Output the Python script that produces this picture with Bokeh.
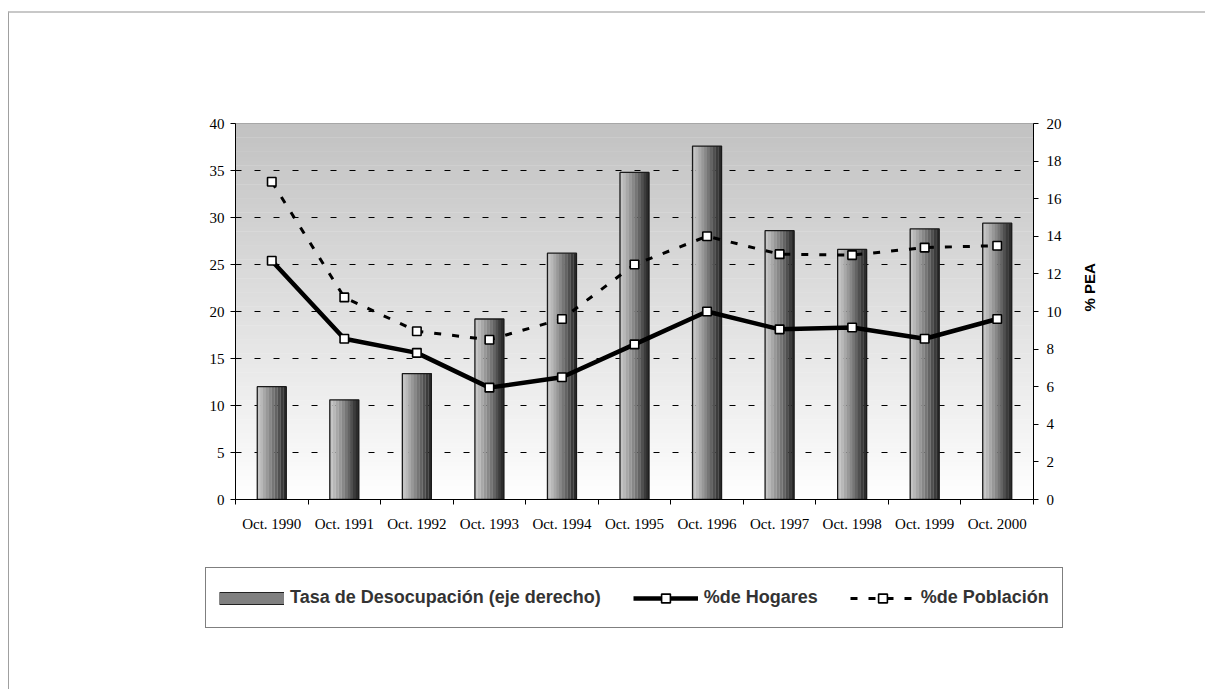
import math
import numpy as np
from bokeh.plotting import figure
from bokeh.layouts import column
from bokeh.models import Range1d, LinearAxis, FixedTicker, Legend, LegendItem
from bokeh.embed import file_html
from bokeh.resources import INLINE

# ---------------- data ----------------
categories = ["Oct. 1990", "Oct. 1991", "Oct. 1992", "Oct. 1993", "Oct. 1994", "Oct. 1995",
              "Oct. 1996", "Oct. 1997", "Oct. 1998", "Oct. 1999", "Oct. 2000"]
tasa_desocupacion = [6.0, 5.3, 6.7, 9.6, 13.1, 17.4, 18.8, 14.3, 13.3, 14.4, 14.7]   # % PEA (right axis)
pct_hogares = [25.4, 17.1, 15.6, 11.9, 13.0, 16.5, 20.0, 18.1, 18.3, 17.1, 19.2]
pct_poblacion = [33.8, 21.5, 17.9, 17.0, 19.2, 25.0, 28.0, 26.1, 26.0, 26.8, 27.0]
left_ticks = [0, 5, 10, 15, 20, 25, 30, 35, 40]
right_ticks = [0, 2, 4, 6, 8, 10, 12, 14, 16, 18, 20]
grid_ticks = [5, 10, 15, 20, 25, 30, 35]

idx = np.arange(len(categories))
n_cat = len(categories)

TOTAL_W = 1196
TOP_H = 540
BOT_H = 136

p = figure(frame_width=798, frame_height=376,
           min_border_left=226, min_border_right=TOTAL_W - 226 - 798, min_border_top=110,
           min_border_bottom=TOP_H - 110 - 376,
           x_range=Range1d(-0.5, n_cat - 0.5), y_range=Range1d(left_ticks[0], left_ticks[-1]),
           output_backend="svg", toolbar_location=None)
p.extra_y_ranges = {"right": Range1d(right_ticks[0], right_ticks[-1])}
p.background_fill_color = "white"
p.border_fill_color = "white"
p.outline_line_color = "#8c8c8c"
p.outline_line_width = 1

# ---------------- background gradient (gray at top -> white at bottom) ----------------
nb = 80
y0 = left_ticks[0]
y1 = left_ticks[-1]
edges = np.linspace(y0, y1, nb + 1)
frac = (edges[:-1] + edges[1:]) / 2 / y1
shade = (255 - frac * (255 - 194)).astype(int)
bg_colors = ["#%02x%02x%02x" % (s, s, s) for s in shade]
step = edges[1] - edges[0]
p.quad(left=-0.5, right=n_cat - 0.5, bottom=edges[:-1], top=edges[:-1] + step * 1.08,
       fill_color=bg_colors, line_color=None, level="image")

# ---------------- grid ----------------
p.xgrid.visible = False
p.ygrid.ticker = FixedTicker(ticks=grid_ticks)
p.ygrid.grid_line_color = "black"
p.ygrid.grid_line_width = 1
p.ygrid.grid_line_dash = "6 13"

# ---------------- bars (cylinder-like shading with strips) ----------------
strip_colors = ["#c4c4c4", "#b8b8b8", "#a8a8a8", "#989898", "#888888", "#767676",
                "#646464", "#505050", "#3c3c3c", "#2c2c2c"]
bar_w = 0.40
sw = bar_w / len(strip_colors)
for k, c in enumerate(strip_colors):
    p.vbar(x=idx - bar_w / 2 + sw * (k + 0.5), top=tasa_desocupacion, bottom=0, width=sw * 1.05,
           fill_color=c, line_color=None, y_range_name="right")
p.vbar(x=idx, top=tasa_desocupacion, bottom=0, width=bar_w, fill_color=None,
       line_color="#1a1a1a", line_width=1.3, y_range_name="right")

# ---------------- lines ----------------
pob_style = dict(line_color="black", line_width=3, line_dash="7 11")
hog_style = dict(line_color="black", line_width=4.5)
mk_style = dict(marker="square", size=8.5, fill_color="white", line_color="black", line_width=1.6)
p.line(idx, pct_poblacion, **pob_style)
p.scatter(idx, pct_poblacion, **mk_style)
p.line(idx, pct_hogares, **hog_style)
p.scatter(idx, pct_hogares, **mk_style)

# ---------------- axes ----------------
serif = "Liberation Serif"
p.yaxis.ticker = FixedTicker(ticks=left_ticks)
p.yaxis.major_tick_out = 5
p.yaxis.major_tick_in = 0
p.yaxis.minor_tick_out = 0
p.yaxis.minor_tick_in = 0
p.yaxis.axis_line_color = "black"
p.yaxis.major_tick_line_color = "black"
p.yaxis.major_label_text_font = serif
p.yaxis.major_label_text_font_size = "15px"
p.yaxis.major_label_text_color = "black"
p.yaxis.major_label_standoff = 6

p.xaxis.ticker = FixedTicker(ticks=list(idx), minor_ticks=list(np.arange(-0.5, n_cat, 1.0)))
p.xaxis.major_label_overrides = {int(i): c for i, c in zip(idx, categories)}
p.xaxis.major_tick_out = 0
p.xaxis.major_tick_in = 0
p.xaxis.minor_tick_out = 5
p.xaxis.minor_tick_in = 0
p.xaxis.minor_tick_line_color = "black"
p.xaxis.axis_line_color = "black"
p.xaxis.major_label_text_font = serif
p.xaxis.major_label_text_font_size = "15px"
p.xaxis.major_label_text_color = "black"
p.xaxis.major_label_standoff = 11

ra = LinearAxis(y_range_name="right", ticker=FixedTicker(ticks=right_ticks), axis_label="% PEA")
ra.major_tick_out = 5
ra.major_tick_in = 0
ra.minor_tick_out = 0
ra.minor_tick_in = 0
ra.axis_line_color = "black"
ra.major_tick_line_color = "black"
ra.major_label_text_font = serif
ra.major_label_text_font_size = "15px"
ra.major_label_text_color = "black"
ra.major_label_standoff = 8
ra.axis_label_text_font = "Liberation Sans"
ra.axis_label_text_font_style = "bold"
ra.axis_label_text_font_size = "15px"
ra.axis_label_text_color = "black"
ra.axis_label_standoff = 25
if "axis_label_orientation" in ra.properties():
    ra.axis_label_orientation = math.pi / 2
p.add_layout(ra, "right")

# ---------------- legend (separate strip below the chart) ----------------
p2 = figure(frame_width=TOTAL_W, frame_height=BOT_H, min_border=0,
            x_range=Range1d(0, TOTAL_W), y_range=Range1d(0, BOT_H),
            x_axis_location=None, y_axis_location=None,
            output_backend="svg", toolbar_location=None)
p2.grid.visible = False
p2.outline_line_color = None
p2.background_fill_color = "white"
p2.border_fill_color = "white"

# legend-only renderers: one point placed outside the visible range so only the legend shows them
off_x = [-100, -90]
off_y = [-100, -100]
leg_bar_outer = p2.line(x=off_x, y=off_y, line_color="#222222", line_width=13, line_cap="butt")
leg_bar_inner = p2.line(x=off_x, y=off_y, line_color="#808080", line_width=11, line_cap="butt")
leg_hog_l = p2.line(x=off_x, y=off_y, **hog_style)
leg_hog_m = p2.scatter(x=off_x[:1], y=off_y[:1], **mk_style)
leg_pob_l = p2.line(x=off_x, y=off_y, **pob_style)
leg_pob_m = p2.scatter(x=off_x[:1], y=off_y[:1], **mk_style)

LEG_H = 59
legend = Legend(items=[
    LegendItem(label="Tasa de Desocupación (eje derecho)", renderers=[leg_bar_outer, leg_bar_inner]),
    LegendItem(label="%de Hogares", renderers=[leg_hog_l, leg_hog_m]),
    LegendItem(label="%de Población", renderers=[leg_pob_l, leg_pob_m]),
], orientation="horizontal", location=(196, BOT_H - 16 - LEG_H))
legend.margin = 0
legend.padding = 13
legend.spacing = 32
legend.glyph_width = 65
legend.glyph_height = 22
legend.label_height = 33
legend.label_standoff = 6
legend.label_text_font = "Liberation Sans"
legend.label_text_font_style = "bold"
legend.label_text_font_size = "18px"
legend.label_text_color = "#333333"
legend.border_line_color = "black"
legend.border_line_width = 1
legend.background_fill_color = "white"
legend.background_fill_alpha = 1.0
p2.add_layout(legend)

layout = column(p, p2, spacing=0,
                styles={"margin-left": "8px", "margin-top": "11px",
                        "border-top": "2px solid #c8c8c8", "border-left": "1px solid #a0a0a0"})

open("out.html", "w").write(file_html(layout, INLINE))
